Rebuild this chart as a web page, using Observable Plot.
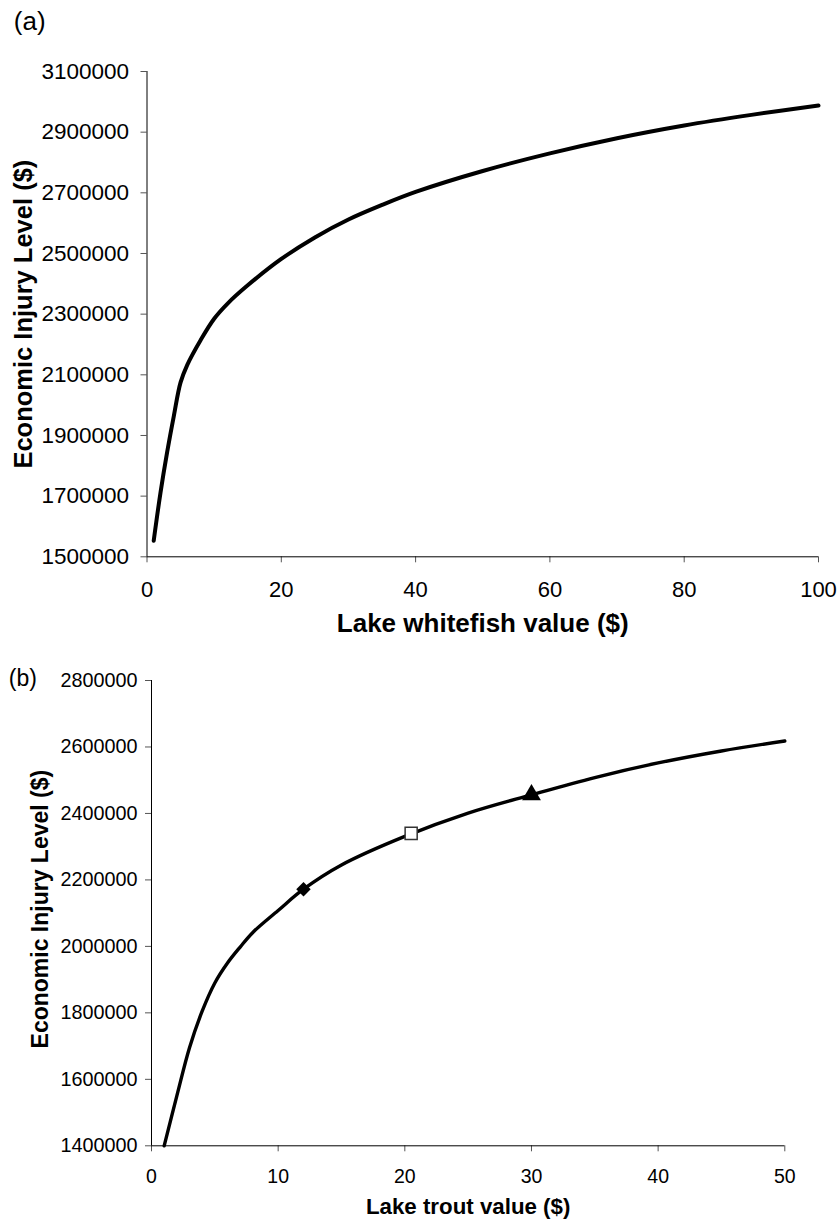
<!DOCTYPE html>
<html>
<head>
<meta charset="utf-8">
<script src="https://cdn.jsdelivr.net/npm/d3@7"></script>
<script src="https://cdn.jsdelivr.net/npm/@observablehq/plot@0.6"></script>
<style>
  body { margin: 0; background: #fff; }
  #fig { width: 840px; height: 1222px; font-family: "Liberation Sans", Arial, sans-serif; }
  #fig svg { display: block; }
  #fig g[aria-label="x-axis tick"], #fig g[aria-label="y-axis tick"] { stroke: #555; }
</style>
</head>
<body>
<div id="fig"></div>
<script>
// (a) Economic injury level against the value of a lake whitefish
const whitefishValue = [1, 2, 3, 4, 5, 6, 8, 10, 12, 15, 20, 25, 30, 35, 40, 50, 60, 70, 80, 90, 100];
const whitefishEIL = [1553000, 1710000, 1845000, 1965000, 2075000, 2133000, 2215000, 2285000, 2335000, 2395000,
                      2482000, 2553000, 2612000, 2660000, 2703000, 2772000, 2830000, 2880000, 2922000, 2957000, 2988000];
const whitefishTicksX = [0, 20, 40, 60, 80, 100];
const whitefishTicksY = [1500000, 1700000, 1900000, 2100000, 2300000, 2500000, 2700000, 2900000, 3100000];

// (b) Economic injury level against the value of a lake trout
const troutValue = [1, 2, 3, 4, 5, 6, 7, 8, 10, 12, 15, 20, 25, 30, 35, 40, 45, 50];
const troutEIL = [1400000, 1550000, 1695000, 1805000, 1890000, 1950000, 1998000, 2042000, 2108000, 2172000,
                  2245000, 2331000, 2401000, 2456000, 2508000, 2552000, 2588000, 2618000];
const troutTicksX = [0, 10, 20, 30, 40, 50];
const troutTicksY = [1400000, 1600000, 1800000, 2000000, 2200000, 2400000, 2600000, 2800000];

// highlighted trout values on the curve: diamond, open square, triangle
const markerValue = [12, 20.5, 30];
const markerEIL = [2172000, 2340000, 2456000];

const yTitle = "Economic Injury Level ($)";
const font = '"Liberation Sans", Arial, sans-serif';

const whitefish = whitefishValue.map((v, i) => ({v, eil: whitefishEIL[i]}));
const trout = troutValue.map((v, i) => ({v, eil: troutEIL[i]}));
const markers = markerValue.map((v, i) => ({v, eil: markerEIL[i]}));

const panelA = Plot.plot({
  width: 840,
  height: 645,
  marginLeft: 146.5,
  marginRight: 22,
  marginTop: 71,
  marginBottom: 88.7,
  style: {fontFamily: font, color: "#000", background: "#fff", overflow: "visible"},
  x: {domain: [0, 100]},
  y: {domain: [1500000, 3100000]},
  marks: [
    Plot.axisX({ticks: whitefishTicksX, tickSize: 6, tickPadding: 19, fontSize: 22, tickFormat: d => String(d), label: null}),
    Plot.axisY({ticks: whitefishTicksY, tickSize: 6, tickPadding: 12, fontSize: 22.5, tickFormat: d => String(d), label: null}),
    Plot.ruleX([0], {stroke: "#000", strokeWidth: 1}),
    Plot.ruleY([1500000], {stroke: "#000", strokeWidth: 1}),
    Plot.line(whitefish, {x: "v", y: "eil", curve: "catmull-rom", stroke: "#000", strokeWidth: 4}),
    Plot.text(["Lake whitefish value ($)"], {text: d => d, frameAnchor: "bottom", textAnchor: "middle", lineAnchor: "middle", dy: 67, fontSize: 26, fontWeight: "bold"}),
    Plot.text([yTitle], {text: d => d, frameAnchor: "left", textAnchor: "middle", lineAnchor: "middle", rotate: -90, dx: -123.5, fontSize: 25.5, fontWeight: "bold"}),
    Plot.text(["(a)"], {text: d => d, frameAnchor: "top-left", textAnchor: "start", lineAnchor: "middle", dx: -133.2, dy: -49.5, fontSize: 26})
  ]
});

const panelB = Plot.plot({
  width: 840,
  height: 577,
  marginLeft: 151,
  marginRight: 55.7,
  marginTop: 35,
  marginBottom: 76.7,
  style: {fontFamily: font, color: "#000", background: "#fff", overflow: "visible"},
  x: {domain: [0, 50]},
  y: {domain: [1400000, 2800000]},
  marks: [
    Plot.axisX({ticks: troutTicksX, tickSize: 6, tickPadding: 17, fontSize: 19.5, tickFormat: d => String(d), label: null}),
    Plot.axisY({ticks: troutTicksY, tickSize: 6, tickPadding: 8, fontSize: 19.8, tickFormat: d => String(d), label: null}),
    Plot.ruleX([0], {stroke: "#000", strokeWidth: 1}),
    Plot.ruleY([1400000], {stroke: "#000", strokeWidth: 1}),
    Plot.line(trout, {x: "v", y: "eil", curve: "catmull-rom", stroke: "#000", strokeWidth: 3.4}),
    Plot.dot(markers.slice(0, 1), {x: "v", y: "eil", symbol: "diamond2", r: 6.5, fill: "#000", stroke: "none"}),
    Plot.dot(markers.slice(1, 2), {x: "v", y: "eil", symbol: "square", r: 6.8, fill: "#fff", stroke: "#333", strokeWidth: 1.5}),
    Plot.dot(markers.slice(2, 3), {x: "v", y: "eil", symbol: "triangle", r: 7, fill: "#000", stroke: "none"}),
    Plot.text(["Lake trout value ($)"], {text: d => d, frameAnchor: "bottom", textAnchor: "middle", lineAnchor: "middle", dy: 61.4, fontSize: 22.3, fontWeight: "bold"}),
    Plot.text([yTitle], {text: d => d, frameAnchor: "left", textAnchor: "middle", lineAnchor: "middle", rotate: -90, dx: -110.7, dy: -4, fontSize: 23, fontWeight: "bold"}),
    Plot.text(["(b)"], {text: d => d, frameAnchor: "top-left", textAnchor: "start", lineAnchor: "middle", dx: -142.7, dy: -1.5, fontSize: 23})
  ]
});

const fig = document.getElementById("fig");
fig.append(panelA, panelB);
</script>
</body>
</html>
